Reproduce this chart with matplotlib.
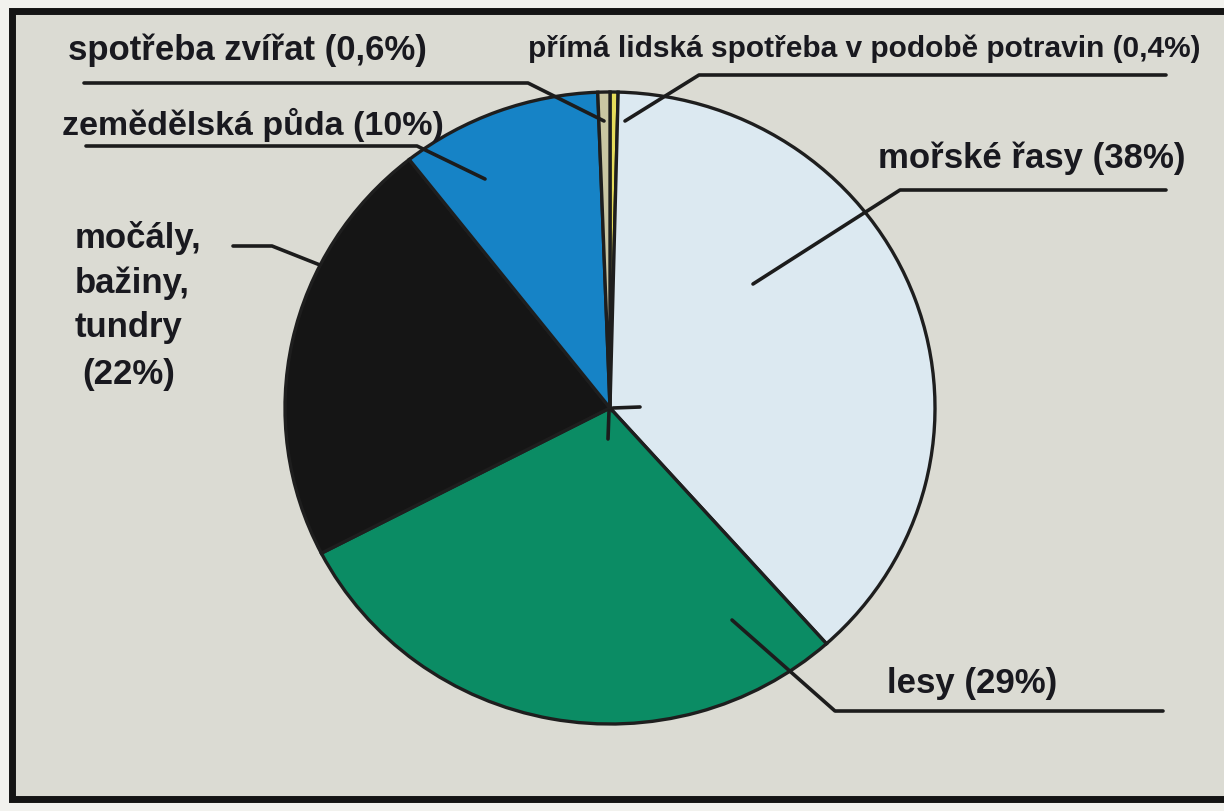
import matplotlib
matplotlib.use("Agg")
import matplotlib.pyplot as plt

# ---- data -------------------------------------------------------------
labels = ["přímá lidská spotřeba v podobě potravin (0,4%)",
          "mořské řasy (38%)",
          "lesy (29%)",
          "močály,\nbažiny,\ntundry\n(22%)",
          "zemědělská půda (10%)",
          "spotřeba zvířat (0,6%)"]
values = [0.4, 38, 29, 22, 10, 0.6]
colors = ["#e6dc5a", "#dce9f1", "#0b8c64", "#151515", "#1683c6", "#c9c6a2"]

W, H = 1224, 812
fig = plt.figure(figsize=(W / 100, H / 100), dpi=100)
fig.patch.set_facecolor("#f2f2ee")

def Y(y):  # image row -> data y
    return H - y

# background axes (pixel coordinates)
ax_bg = fig.add_axes([0, 0, 1, 1], zorder=0)
ax_bg.set_xlim(0, W)
ax_bg.set_ylim(0, H)
ax_bg.axis("off")
ax_bg.add_patch(plt.Rectangle((12, Y(800)), W + 20, 788, facecolor="#dbdbd3",
                              edgecolor="#141414", linewidth=5))

# pie axes (slightly wider than tall, as in the original)
cx, cy, rx, ry = 610, 409, 325, 316
ax_pie = fig.add_axes([(cx - rx) / W, (H - cy - ry) / H, 2 * rx / W, 2 * ry / H],
                      zorder=1)
ax_pie.pie(values, colors=colors, startangle=90, counterclock=False,
           radius=1, wedgeprops=dict(edgecolor="#1e1e1e", linewidth=2.4))
ax_pie.set_aspect("auto")
ax_pie.set_xlim(-1, 1)
ax_pie.set_ylim(-1, 1)
ax_pie.axis("off")

# overlay axes for leader lines and labels
ax = fig.add_axes([0, 0, 1, 1], zorder=2)
ax.patch.set_alpha(0)
ax.set_xlim(0, W)
ax.set_ylim(0, H)
ax.axis("off")

lc = "#1c1c1c"
lw = 2.6
def leader(pts):
    ax.plot([p[0] for p in pts], [Y(p[1]) for p in pts], color=lc, lw=lw,
            solid_capstyle="round")

leader([(1166, 76), (699, 76), (625, 122)])          # přímá
leader([(84, 84), (528, 84), (604, 122)])            # spotřeba zvířat
leader([(86, 147), (417, 147), (485, 180)])          # zemědělská
leader([(1166, 191), (900, 191), (753, 285)])        # mořské řasy
leader([(1163, 712), (835, 712), (732, 621)])        # lesy
leader([(233, 247), (272, 247), (320, 266)])         # močály
leader([(613, 409), (640, 408)])
leader([(609, 412), (608, 440)])

tc = "#19191f"
kw = dict(fontweight="bold", color=tc, family="Liberation Sans", va="center")
ax.text(68, Y(50), labels[5], ha="left", fontsize=25, **kw)
ax.text(1200, Y(49), labels[0], ha="right", fontsize=21.5, **kw)
ax.text(62, Y(125), labels[4], ha="left", fontsize=24.5, **kw)
ax.text(1186, Y(158), labels[1], ha="right", fontsize=25, **kw)
ax.text(1057, Y(684), labels[2], ha="right", fontsize=25, **kw)
for txt, yy, xx in zip(labels[3].split("\n"), [238, 283, 328, 375],
                       [75, 75, 75, 82]):
    ax.text(xx, Y(yy), txt, ha="left", fontsize=25, **kw)

fig.savefig("out.png", dpi=100, facecolor=fig.get_facecolor())
